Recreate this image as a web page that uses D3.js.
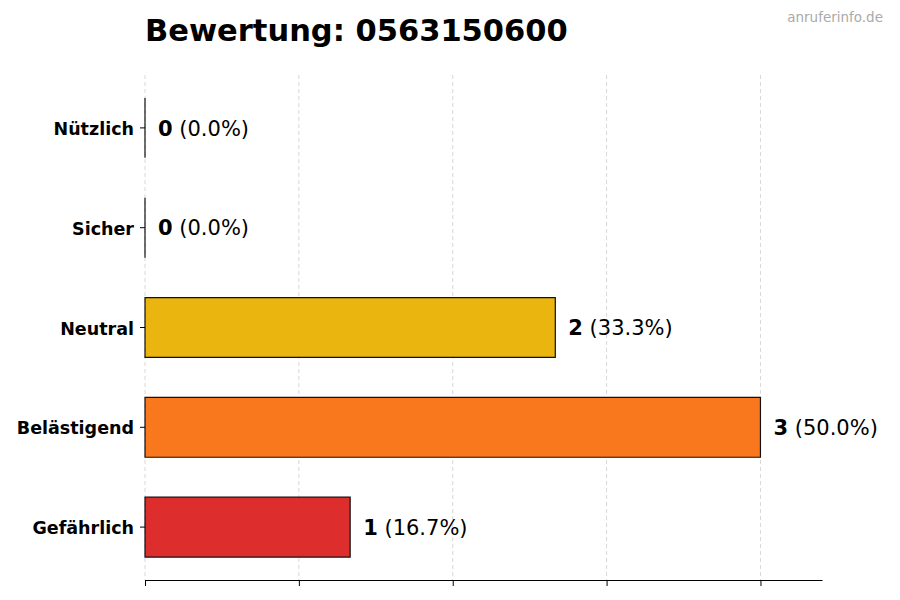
<!DOCTYPE html>
<html>
<head>
<meta charset="utf-8">
<script src="https://cdn.jsdelivr.net/npm/d3@7"></script>
<style>
	body { margin: 0; background: #fff; }
	svg { font-family: 'DejaVu Sans', sans-serif; }
</style>
</head>
<body>
<div id="chart"></div>
<script>

var categories = [ 'Nützlich', 'Sicher', 'Neutral', 'Belästigend', 'Gefährlich' ];
var counts = [ 0, 0, 2, 3, 1 ];
var percents = [ 0.0, 0.0, 33.3, 50.0, 16.7 ];
var barColors = [ '#22c55e', '#3b82f6', '#eab308', '#f97316', '#dc2626' ];
var xTicks = [ 0, 0.75, 1.5, 2.25, 3 ];

var chart = {
	width: 900,
	height: 600,
	padding: { top: 75, right: 78, bottom: 20, left: 145 }
};

chart.cwidth = chart.width - chart.padding.left - chart.padding.right;
chart.cheight = chart.height - chart.padding.top - chart.padding.bottom;

var svg = d3.select( '#chart' ).append( 'svg' )
	.attr( 'width', chart.width )
	.attr( 'height', chart.height );

var guts = svg.append( 'g' )
	.attr( 'transform', 'translate(' + chart.padding.left + ',' + chart.padding.top + ')' );

var x = d3.scaleLinear()
	.domain( [ 0, d3.max( counts ) * 1.1 ] )
	.range( [ 0, chart.cwidth ] );

var y = d3.scaleBand()
	.domain( categories )
	.range( [ 0, chart.cheight ] )
	.paddingInner( 0.4 )
	.paddingOuter( 0.23 );

// grid
guts.append( 'g' ).selectAll( 'line' )
	.data( xTicks )
	.enter().append( 'line' )
	.attr( 'x1', function ( d ) { return x( d ); } )
	.attr( 'x2', function ( d ) { return x( d ); } )
	.attr( 'y1', 0 )
	.attr( 'y2', chart.cheight )
	.attr( 'stroke', '#cfcfcf' )
	.attr( 'stroke-width', 0.8 )
	.attr( 'stroke-dasharray', '4,3' );

// bars (paths so zero-width bars still show their outline)
guts.append( 'g' ).selectAll( 'path' )
	.data( categories )
	.enter().append( 'path' )
	.attr( 'd', function ( d, i ) {
		var w = x( counts[i] ) - x( 0 );
		return 'M' + x( 0 ) + ',' + y( d ) + 'h' + w + 'v' + y.bandwidth() + 'h' + ( -w ) + 'Z';
	} )
	.attr( 'fill', function ( d, i ) { return barColors[i]; } )
	.attr( 'fill-opacity', 0.97 )
	.attr( 'stroke', '#111' )
	.attr( 'stroke-width', 1.2 );

// value labels
var labels = guts.append( 'g' ).selectAll( 'text' )
	.data( categories )
	.enter().append( 'text' )
	.attr( 'x', function ( d, i ) { return x( counts[i] ) + 13; } )
	.attr( 'y', function ( d ) { return y( d ) + y.bandwidth() / 2; } )
	.attr( 'dy', '0.37em' )
	.style( 'font-size', '21px' )
	.attr( 'fill', '#000' );

labels.append( 'tspan' )
	.style( 'font-weight', 'bold' )
	.text( function ( d, i ) { return counts[i]; } );

labels.append( 'tspan' )
	.text( function ( d, i ) { return ' (' + percents[i].toFixed( 1 ) + '%)'; } );

// axes
var xAxis = d3.axisBottom( x )
	.tickValues( xTicks )
	.tickFormat( '' )
	.tickSize( 6 )
	.tickSizeOuter( 0 );

var yAxis = d3.axisLeft( y )
	.tickSize( 5 )
	.tickPadding( 6 );

var xAxisEl = guts.append( 'g' )
	.attr( 'transform', 'translate(0,' + chart.cheight + ')' )
	.call( xAxis );
xAxisEl.select( '.domain' ).attr( 'stroke', '#000' ).attr( 'stroke-width', 1 );
xAxisEl.selectAll( '.tick line' ).attr( 'stroke', '#000' );

var yAxisEl = guts.append( 'g' ).call( yAxis );
yAxisEl.select( '.domain' ).remove();
yAxisEl.selectAll( '.tick line' ).attr( 'stroke', '#000' );
yAxisEl.selectAll( 'text' )
	.attr( 'dy', '0.4em' )
	.style( 'font-family', "'DejaVu Sans', sans-serif" )
	.style( 'font-size', '17.5px' )
	.style( 'font-weight', 'bold' )
	.attr( 'fill', '#000' );

// title + watermark
svg.append( 'text' )
	.attr( 'x', chart.padding.left )
	.attr( 'y', 41 )
	.style( 'font-size', '30.5px' )
	.style( 'font-weight', 'bold' )
	.text( 'Bewertung: 0563150600' );

svg.append( 'text' )
	.attr( 'x', 883 )
	.attr( 'y', 22 )
	.attr( 'text-anchor', 'end' )
	.style( 'font-size', '13.5px' )
	.attr( 'fill', '#aaaaaa' )
	.text( 'anruferinfo.de' );

</script>
</body>
</html>
